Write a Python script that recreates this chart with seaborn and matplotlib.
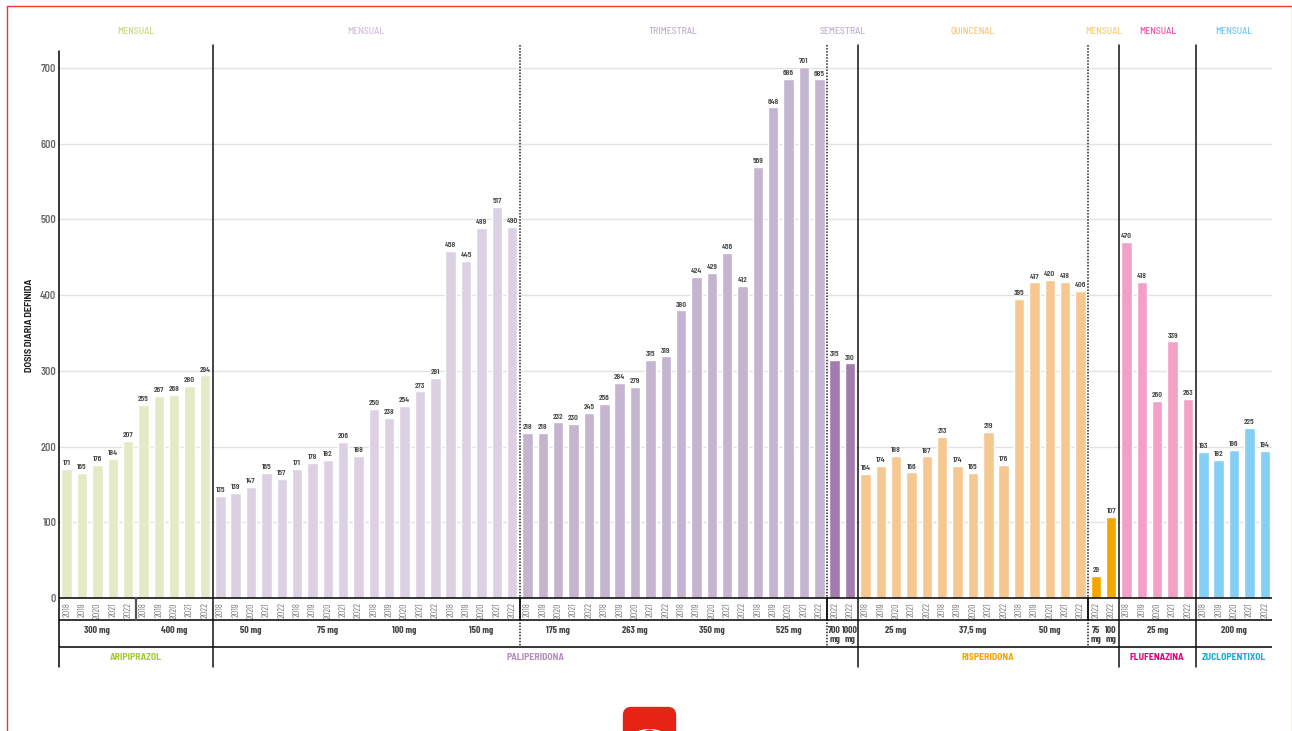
import matplotlib
matplotlib.use('Agg')
import matplotlib.pyplot as plt
from matplotlib.patches import FancyBboxPatch, Ellipse, Circle
from matplotlib.transforms import blended_transform_factory
import seaborn as sns
import pandas as pd
import numpy as np

# Datos
anios = ['2018', '2019', '2020', '2021', '2022']
aripiprazol = [171, 165, 176, 184, 207, 255, 267, 268, 280, 294]
paliperidona_claro = [135, 139, 147, 165, 157, 171, 178, 182, 206, 188,
                      250, 238, 254, 273, 291, 458, 445, 489, 517, 490]
paliperidona_medio = [218, 218, 232, 230, 245, 256, 284, 279, 315, 319,
                      380, 424, 429, 456, 412, 569, 648, 686, 701, 685]
paliperidona_semestral = [315, 310]
risperidona_quincenal = [164, 174, 188, 166, 187, 213, 174, 165, 219, 176,
                         395, 417, 420, 418, 406]
risperidona_mensual = [29, 107]
flufenazina = [470, 418, 260, 339, 263]
zuclopentixol = [193, 182, 196, 225, 194]

grupos = ['ari', 'pal1', 'pal2', 'pal3', 'ris1', 'ris2', 'flu', 'zuc']
colores = ['#E3EAC6', '#DBD1E2', '#C4B4CF', '#A27CAE', '#F6C891', '#F3A600', '#F3A0C7', '#84CFF5']
series = [aripiprazol, paliperidona_claro, paliperidona_medio, paliperidona_semestral,
          risperidona_quincenal, risperidona_mensual, flufenazina, zuclopentixol]

dosis = ['300 mg', '400 mg', '50 mg', '75 mg', '100 mg', '150 mg', '175 mg', '263 mg',
         '350 mg', '525 mg', '700\nmg', '1000\nmg', '25 mg', '37,5 mg', '50 mg',
         '75\nmg', '100\nmg', '25 mg', '200 mg']
barras_por_dosis = [5, 5, 5, 5, 5, 5, 5, 5, 5, 5, 1, 1, 5, 5, 5, 1, 1, 5, 5]

farmacos = ['ARIPIPRAZOL', 'PALIPERIDONA', 'RISPERIDONA', 'FLUFENAZINA', 'ZUCLOPENTIXOL']
barras_por_farmaco = [10, 42, 17, 5, 5]
color_farmaco = ['#A5C93A', '#B48FC0', '#F3A600', '#E6007E', '#1FA8E0']

pautas = ['MENSUAL', 'MENSUAL', 'TRIMESTRAL', 'SEMESTRAL', 'QUINCENAL', 'MENSUAL', 'MENSUAL', 'MENSUAL']
barras_por_pauta = [10, 20, 20, 2, 15, 2, 5, 5]
color_pauta = ['#C4D97F', '#D0BFDB', '#C0AECC', '#C0AECC', '#F8C679', '#F9CB76', '#EC4FA3', '#6EC6EE']

valores = [v for s in series for v in s]
df = pd.DataFrame({
    'pos': np.arange(len(valores)),
    'valor': valores,
    'grupo': [g for g, s in zip(grupos, series) for _ in s],
})
etiquetas_anio = []
for n in barras_por_dosis:
    etiquetas_anio += anios if n == 5 else ['2022']

sns.set_theme(style='white')
# si no estan las condensadas, cae en Roboto
estrecha = ['Barlow Condensed', 'Roboto', 'DejaVu Sans']
media = ['Barlow Semi Condensed', 'Roboto', 'DejaVu Sans']
ancha = ['Barlow', 'Roboto', 'DejaVu Sans']
plt.rcParams['font.family'] = estrecha

W, H = 1292, 731
fig = plt.figure(figsize=(W / 100, H / 100), dpi=100, facecolor='white')
ax = fig.add_axes([59 / W, 1 - 598 / H, (1272 - 59) / W, (598 - 45) / H])
# capa en pixeles para marco, logo y lineas de la tabla
capa = fig.add_axes([0, 0, 1, 1], zorder=5)
capa.set_xlim(0, W)
capa.set_ylim(H, 0)
capa.axis('off')

sns.barplot(data=df, x='pos', y='valor', hue='grupo', hue_order=grupos,
            palette=dict(zip(grupos, colores)), dodge=False, width=0.68,
            legend=False, saturation=1, ax=ax, zorder=3)
ax.set_xlim(-0.5, len(valores) - 1 + 0.47)
ax.set_ylim(0, 730.4)
ax.set_xlabel('')
ax.set_ylabel('')
sns.despine(ax=ax, left=True, bottom=True)
ax.set_yticks(range(0, 701, 100))
ax.grid(axis='y', color='#E2E2E2', lw=1, zorder=0)
ax.set_axisbelow(True)
ax.tick_params(axis='y', length=0, pad=2, labelsize=7.5, labelcolor='#666666')
for t in ax.get_yticklabels():
    t.set_fontweight('semibold')
    t.set_family(media)
ax.set_xticks(df['pos'])
ax.set_xticklabels(etiquetas_anio, rotation=90, fontsize=7, color='#808080')
ax.tick_params(axis='x', length=0, pad=3)

for c in ax.containers:
    ax.bar_label(c, padding=2, fontsize=6, color='#444444', fontweight='semibold')

tr = blended_transform_factory(ax.transData, capa.transData)

# Lineas de la tabla inferior
for y in [598, 620, 647]:
    capa.plot([59, 1272], [y, y], color='black', lw=1.1, solid_capstyle='butt')
capa.plot([59, 59], [51, 667], color='black', lw=1.1)

for x in np.cumsum(barras_por_farmaco)[:-1] - 0.5:
    capa.plot([x, x], [45, 667], color='#111111', lw=1.1, transform=tr)
for x in [29.5, 49.5, 66.5]:
    capa.plot([x, x], [45, 647], color='#222222', lw=1.1, ls=(0, (1, 1)), transform=tr)
    capa.plot([x, x], [598, 620], color='black', lw=1.2, transform=tr)
capa.plot([4.5, 4.5], [598, 620], color='#555555', lw=1.6, transform=tr)

# Textos por bloques
ini = 0
for txt, n in zip(dosis, barras_por_dosis):
    capa.text(ini + (n - 1) / 2, 626, txt, transform=tr, ha='center', va='top', fontsize=7,
              fontweight='bold', color='#444444', linespacing=1.0)
    ini += n

ini = 0
for txt, n, col in zip(farmacos, barras_por_farmaco, color_farmaco):
    capa.text(ini + (n - 1) / 2, 657, txt, transform=tr, ha='center', va='center',
              fontsize=7, fontweight='bold', color=col, family=media)
    ini += n

ini = 0
for txt, n, col in zip(pautas, barras_por_pauta, color_pauta):
    capa.text(ini + (n - 1) / 2, 31, txt, transform=tr, ha='center', va='center',
              fontsize=7, fontweight='medium', color=col, family=media)
    ini += n

capa.text(30, 325, 'DOSIS DIARIA DEFINIDA', rotation=90, ha='center', va='center',
          fontsize=6.5, fontweight='bold', color='#222222', family=ancha)

# Marco rojo de la pagina
capa.plot([6.5, 6.5, 1291], [731, 5.5, 5.5], color='#E8392B', lw=1)
capa.plot([1291.5, 1291.5], [5.5, 731], color='#E5A9A2', lw=1)

# Logo recortado abajo
capa.add_patch(FancyBboxPatch((627, 711), 45, 40, boxstyle='round,pad=0,rounding_size=4',
                              mutation_aspect=1, fc='#E62314', ec='#E62314', lw=6))
capa.add_patch(Ellipse((649.5, 743), 44, 28, fc='white', ec='none'))
capa.add_patch(Circle((649.5, 738), 8.5, fc='#E62314', ec='none'))
capa.add_patch(Circle((649.5, 739), 4.5, fc='white', ec='none'))

fig.savefig('out.png', dpi=100)
